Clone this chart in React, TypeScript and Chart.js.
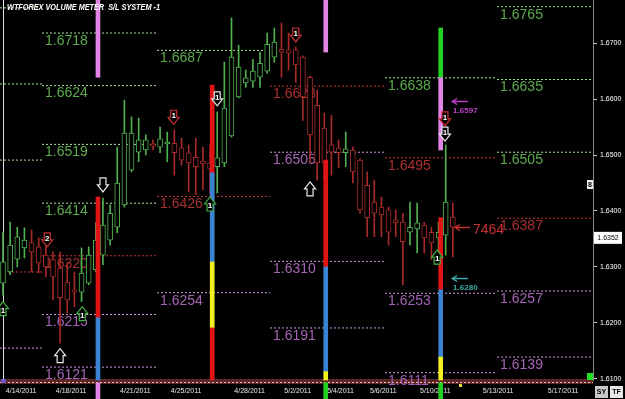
import React, { useEffect, useRef } from 'react';
import { Chart, registerables } from 'chart.js';

Chart.register(...registerables);

// ---------- data ----------
const TITLE = 'WTFOREX VOLUME METER  S/L SYSTEM -1';
const Y_MIN = 1.6098;
const Y_MAX = 1.6777;
const X_MIN = -0.42;
const X_MAX = 82.63;

const PRICE_TICKS = [1.61, 1.62, 1.63, 1.64, 1.65, 1.66, 1.67];
const DATE_TICK_POS = [0.4, 7.4, 16.4, 23.5, 32.4, 39.4, 45.4, 51.4, 58.4, 67.2, 76.3];
const DATE_LABELS = ['4/14/2011', '4/18/2011', '4/21/2011', '4/25/2011', '4/28/2011', '5/2/2011', '5/4/2011', '5/6/2011', '5/10/2011', '5/13/2011', '5/17/2011'];

const CANDLE_OPEN = [1.6271, 1.6291, 1.6314, 1.6334, 1.6343, 1.6336, 1.6321, 1.6313, 1.6298, 1.6273, 1.6259, 1.6255, 1.6271, 1.6295, 1.6321, 1.6348, 1.6371, 1.6411, 1.6473, 1.6505, 1.6509, 1.6520, 1.6514, 1.6520, 1.6521, 1.6513, 1.6504, 1.6496, 1.6489, 1.6486, 1.6479, 1.6486, 1.6534, 1.6604, 1.6629, 1.6632, 1.6639, 1.6650, 1.6675, 1.6689, 1.6688, 1.6688, 1.6675, 1.6639, 1.6589, 1.6548, 1.6518, 1.6513, 1.6504, 1.6509, 1.6491, 1.6446, 1.6416, 1.6407, 1.6402, 1.6384, 1.6380, 1.6362, 1.6368, 1.6375, 1.6362, 1.6352, 1.6357, 1.6389];
const CANDLE_HIGH = [1.6362, 1.6380, 1.6371, 1.6370, 1.6366, 1.6352, 1.6354, 1.6327, 1.6327, 1.6307, 1.6291, 1.6334, 1.6336, 1.6379, 1.6423, 1.6411, 1.6514, 1.6598, 1.6568, 1.6566, 1.6536, 1.6527, 1.6550, 1.6541, 1.6545, 1.6530, 1.6518, 1.6530, 1.6514, 1.6518, 1.6577, 1.6666, 1.6745, 1.6696, 1.6652, 1.6671, 1.6684, 1.6718, 1.6727, 1.6736, 1.6718, 1.6693, 1.6677, 1.6641, 1.6616, 1.6575, 1.6571, 1.6527, 1.6541, 1.6514, 1.6493, 1.6470, 1.6455, 1.6425, 1.6407, 1.6402, 1.6396, 1.6416, 1.6414, 1.6380, 1.6371, 1.6380, 1.6518, 1.6414];
const CANDLE_LOW = [1.6250, 1.6286, 1.6300, 1.6316, 1.6291, 1.6289, 1.6282, 1.6241, 1.6164, 1.6218, 1.6229, 1.6238, 1.6268, 1.6291, 1.6304, 1.6339, 1.6361, 1.6407, 1.6470, 1.6488, 1.6500, 1.6509, 1.6504, 1.6488, 1.6464, 1.6482, 1.6434, 1.6429, 1.6438, 1.6432, 1.6432, 1.6479, 1.6532, 1.6602, 1.6621, 1.6621, 1.6621, 1.6646, 1.6666, 1.6639, 1.6652, 1.6630, 1.6562, 1.6486, 1.6455, 1.6455, 1.6464, 1.6477, 1.6479, 1.6450, 1.6396, 1.6354, 1.6354, 1.6354, 1.6339, 1.6354, 1.6268, 1.6339, 1.6325, 1.6325, 1.6313, 1.6313, 1.6321, 1.6318];
const CANDLE_CLOSE = [1.6309, 1.6339, 1.6354, 1.6348, 1.6327, 1.6307, 1.6300, 1.6282, 1.6245, 1.6241, 1.6255, 1.6289, 1.6321, 1.6348, 1.6375, 1.6396, 1.6450, 1.6539, 1.6539, 1.6527, 1.6527, 1.6516, 1.6529, 1.6523, 1.6504, 1.6491, 1.6486, 1.6479, 1.6484, 1.6475, 1.6495, 1.6584, 1.6675, 1.6657, 1.6638, 1.6650, 1.6664, 1.6698, 1.6702, 1.6684, 1.6682, 1.6661, 1.6604, 1.6536, 1.6486, 1.6486, 1.6505, 1.6504, 1.6511, 1.6470, 1.6402, 1.6388, 1.6396, 1.6393, 1.6362, 1.6379, 1.6345, 1.6371, 1.6379, 1.6352, 1.6343, 1.6362, 1.6416, 1.6371];

const WEEK_BOUNDS = [-0.42, 5.46, 21.57, 37.4, 53.5, 69.2, 82.63];
const LEVEL_VALUES = [1.6763, 1.6627, 1.6491, 1.6291, 1.6155, 1.6718, 1.6624, 1.6519, 1.6414, 1.6320, 1.6215, 1.6121, 1.6687, 1.6426, 1.6254, 1.6623, 1.6505, 1.6310, 1.6191, 1.6638, 1.6495, 1.6253, 1.6111, 1.6765, 1.6635, 1.6505, 1.6387, 1.6257, 1.6139];
const LEVEL_WEEK = [0, 0, 0, 0, 0, 1, 1, 1, 1, 1, 1, 1, 2, 2, 2, 3, 3, 3, 3, 4, 4, 4, 4, 5, 5, 5, 5, 5, 5];
const LEVEL_KIND = ['g', 'g', 'g', 'r', 'p', 'g', 'g', 'g', 'g', 'r', 'p', 'p', 'g', 'r', 'p', 'r', 'p', 'p', 'p', 'g', 'r', 'p', 'p', 'g', 'g', 'g', 'r', 'p', 'p'];

const VBAR_X = [13.3, 13.3, 13.3, 13.3, 29.3, 29.3, 29.3, 29.3, 45.2, 45.2, 45.2, 45.2, 45.2, 61.3, 61.3, 61.3, 61.3, 61.3, 61.3];
const VBAR_LO = [1.6639, 1.6209, 1.6098, 1.6064, 1.6468, 1.6309, 1.6191, 1.6098, 1.6684, 1.6300, 1.6113, 1.6098, 1.6064, 1.6638, 1.6509, 1.6259, 1.6139, 1.6098, 1.6064];
const VBAR_HI = [1.6777, 1.6425, 1.6209, 1.6093, 1.6625, 1.6468, 1.6309, 1.6191, 1.6777, 1.6491, 1.6300, 1.6113, 1.6093, 1.6727, 1.6638, 1.6388, 1.6259, 1.6139, 1.6093];
const VBAR_KIND = ['pink', 'red', 'blue', 'pink', 'red', 'blue', 'yellow', 'red', 'pink', 'red', 'blue', 'yellow', 'green', 'green', 'pink', 'red', 'blue', 'yellow', 'green'];

const ARROW_X = [14.0, 30.0, 23.9, 41.0, 6.2, 43.0, 8.0, 11.1, 0.0, 60.8, 29.0, 61.9, 61.9];
const ARROW_Y = [1.6459, 1.6613, 1.6580, 1.6727, 1.6361, 1.6452, 1.6154, 1.6229, 1.6238, 1.6330, 1.6425, 1.6577, 1.6550];
const ARROW_DIR = ['down', 'down', 'down', 'down', 'down', 'up', 'up', 'up', 'up', 'up', 'up', 'down', 'down'];
const ARROW_KIND = ['w', 'w', 'r', 'r', 'r', 'w', 'w', 'g', 'g', 'g', 'g', 'r', 'w'];
const ARROW_TEXT = ['', '1', '1', '1', '2', '', '', '1', '1', '1', '1', '1', '1'];

const HARROW_X = [62.9, 62.9, 63.3];
const HARROW_END = [65.1, 65.1, 65.4];
const HARROW_PRICE = [1.6597, 1.6280, 1.6371];
const HARROW_KIND = ['m', 't', 'r'];
const HARROW_TEXT = ['1.6597', '1.6280', '7464'];

const LAST_PRICE = 1.6352;

// ---------- styles ----------
const GREEN = '#4fb04f';
const RED = '#a52a2a';
const LINE_COL: Record<string, string> = { g: '#a8e89a', r: '#c83232', p: '#d49ae8' };
const TEXT_COL: Record<string, string> = { g: '#5caa4c', r: '#a83030', p: '#a463b4' };
const VBAR_COL: Record<string, string> = { pink: '#e283e6', red: '#e01414', blue: '#3c82d2', yellow: '#f2f022', green: '#22d022' };
const ARROW_COL: Record<string, string> = { w: '#e8e8e8', r: '#c83030', g: '#48b048' };
const HARROW_COL: Record<string, string> = { m: '#c040c8', t: '#3fa8a8', r: '#c83030' };

const FONT = '"Liberation Sans", Arial, sans-serif';

function drawArrow(ctx: CanvasRenderingContext2D, cx: number, top: number, dir: string, color: string, text: string) {
  const w = 11, sw = 6, h = 14, sh = 7;
  ctx.save();
  ctx.beginPath();
  if (dir === 'down') {
    ctx.moveTo(cx - sw / 2, top);
    ctx.lineTo(cx + sw / 2, top);
    ctx.lineTo(cx + sw / 2, top + sh);
    ctx.lineTo(cx + w / 2, top + sh);
    ctx.lineTo(cx, top + h);
    ctx.lineTo(cx - w / 2, top + sh);
    ctx.lineTo(cx - sw / 2, top + sh);
  } else {
    ctx.moveTo(cx, top);
    ctx.lineTo(cx + w / 2, top + h - sh);
    ctx.lineTo(cx + sw / 2, top + h - sh);
    ctx.lineTo(cx + sw / 2, top + h);
    ctx.lineTo(cx - sw / 2, top + h);
    ctx.lineTo(cx - sw / 2, top + h - sh);
    ctx.lineTo(cx - w / 2, top + h - sh);
  }
  ctx.closePath();
  ctx.fillStyle = '#000';
  ctx.fill();
  ctx.strokeStyle = color;
  ctx.lineWidth = 1.2;
  ctx.stroke();
  if (text) {
    ctx.fillStyle = '#fff';
    ctx.font = 'bold 8px ' + FONT;
    ctx.textAlign = 'center';
    ctx.textBaseline = 'middle';
    ctx.fillText(text, cx, dir === 'down' ? top + 6 : top + 9);
  }
  ctx.restore();
}

const overlayPlugin = {
  id: 'overlay',
  beforeDraw(chart: any) {
    const ctx = chart.ctx;
    ctx.save();
    ctx.fillStyle = '#000';
    ctx.fillRect(0, 0, chart.width, chart.height);
    ctx.restore();
  },
  beforeDatasetsDraw(chart: any) {
    const ctx: CanvasRenderingContext2D = chart.ctx;
    const xs = chart.scales.x;
    const ys = chart.scales.y;
    const area = chart.chartArea;
    ctx.save();
    // bottom band
    ctx.fillStyle = '#5c2626';
    ctx.fillRect(0, area.bottom - 1, area.right, 5);
    ctx.strokeStyle = '#f0c8c8';
    ctx.setLineDash([2, 2]);
    ctx.lineWidth = 1;
    ctx.beginPath();
    ctx.moveTo(0, area.bottom + 2.5);
    ctx.lineTo(area.right, area.bottom + 2.5);
    ctx.stroke();
    ctx.setLineDash([]);
    // cursor line
    const x0 = Math.round(xs.getPixelForValue(0)) + 0.5;
    ctx.strokeStyle = '#e0e0e0';
    ctx.beginPath();
    ctx.moveTo(x0, area.top);
    ctx.lineTo(x0, area.bottom);
    ctx.stroke();
    // level labels
    ctx.font = '14px ' + FONT;
    ctx.textAlign = 'left';
    ctx.textBaseline = 'top';
    LEVEL_VALUES.forEach((v, k) => {
      const w = LEVEL_WEEK[k];
      if (w === 0) return;
      ctx.fillStyle = TEXT_COL[LEVEL_KIND[k]];
      ctx.fillText(v.toFixed(4), xs.getPixelForValue(WEEK_BOUNDS[w]) + 3, ys.getPixelForValue(v) + 1);
    });
    ctx.restore();
  },
  afterDatasetsDraw(chart: any) {
    const ctx: CanvasRenderingContext2D = chart.ctx;
    const xs = chart.scales.x;
    const ys = chart.scales.y;
    const area = chart.chartArea;
    ctx.save();
    ARROW_X.forEach((ax, k) => {
      drawArrow(ctx, xs.getPixelForValue(ax), ys.getPixelForValue(ARROW_Y[k]), ARROW_DIR[k], ARROW_COL[ARROW_KIND[k]], ARROW_TEXT[k]);
    });
    HARROW_X.forEach((hx, k) => {
      const x1 = xs.getPixelForValue(hx);
      const x2 = xs.getPixelForValue(HARROW_END[k]);
      const y = Math.round(ys.getPixelForValue(HARROW_PRICE[k])) + 0.5;
      const col = HARROW_COL[HARROW_KIND[k]];
      ctx.strokeStyle = col;
      ctx.lineWidth = 1.3;
      ctx.beginPath();
      ctx.moveTo(x2, y);
      ctx.lineTo(x1, y);
      ctx.moveTo(x1 + 5, y - 3);
      ctx.lineTo(x1, y);
      ctx.lineTo(x1 + 5, y + 3);
      ctx.stroke();
      ctx.fillStyle = col;
      ctx.textAlign = 'left';
      ctx.textBaseline = 'top';
      if (HARROW_KIND[k] === 'r') {
        ctx.font = '14px ' + FONT;
        ctx.fillText(HARROW_TEXT[k], x2 + 3, y - 4);
      } else {
        ctx.font = 'bold 8px ' + FONT;
        ctx.fillText(HARROW_TEXT[k], x1 + 1, y + 5);
      }
    });
    // title
    ctx.font = 'bold italic 9px ' + FONT;
    ctx.fillStyle = '#ffffff';
    ctx.textAlign = 'left';
    ctx.textBaseline = 'alphabetic';
    const tw = ctx.measureText(TITLE).width;
    ctx.save();
    ctx.translate(7, 10);
    ctx.scale(153 / tw, 1);
    ctx.fillText(TITLE, 0, 0);
    ctx.restore();
    // last price box
    const py = ys.getPixelForValue(LAST_PRICE);
    ctx.fillStyle = '#ffffff';
    ctx.fillRect(area.right + 1, py - 6, 28, 12);
    ctx.fillStyle = '#000';
    ctx.font = '7px ' + FONT;
    ctx.textAlign = 'center';
    ctx.textBaseline = 'middle';
    ctx.fillText(LAST_PRICE.toFixed(4), area.right + 15, py);
    // small widgets
    ctx.fillStyle = '#f0f0f0';
    ctx.fillRect(area.right - 6, 180, 6, 9);
    ctx.fillStyle = '#000';
    ctx.font = 'bold 7px ' + FONT;
    ctx.fillText('8', area.right - 3, 185);
    ctx.fillStyle = '#22e022';
    ctx.fillRect(area.right - 6, area.bottom - 7, 6, 7);
    ctx.fillStyle = '#6a5acd';
    ctx.fillRect(1, area.bottom - 1, 5, 4);
    ctx.fillStyle = '#e8e040';
    ctx.fillRect(459, area.bottom + 4, 3, 3);
    ctx.fillStyle = '#c8c8c8';
    ctx.fillRect(595, 386, 13, 12);
    ctx.fillStyle = '#e8e8e8';
    ctx.fillRect(610, 386, 13, 12);
    ctx.fillStyle = '#000';
    ctx.font = 'bold 7px ' + FONT;
    ctx.fillText('SY', 601.5, 392);
    ctx.fillText('TF', 616.5, 392);
    ctx.restore();
  },
};

export default function App() {
  const ref = useRef<HTMLCanvasElement>(null);
  useEffect(() => {
    if (!ref.current) return;
    const color = (ctx: any) =>
      CANDLE_CLOSE[ctx.dataIndex] >= CANDLE_OPEN[ctx.dataIndex] ? GREEN : RED;
    const levelSets = LEVEL_VALUES.map((v, k) => ({
      type: 'line' as const,
      data: [
        { x: WEEK_BOUNDS[LEVEL_WEEK[k]], y: v },
        { x: WEEK_BOUNDS[LEVEL_WEEK[k] + 1], y: v },
      ],
      borderColor: LINE_COL[LEVEL_KIND[k]],
      borderWidth: 1,
      borderDash: [2, 2],
      pointRadius: 0,
      fill: false,
      order: 3,
    }));
    const chart = new Chart(ref.current, {
      type: 'bar',
      data: {
        datasets: [
          {
            type: 'bar',
            data: VBAR_X.map((x, k) => ({ x, y: [VBAR_LO[k], VBAR_HI[k]] })),
            backgroundColor: VBAR_KIND.map((k) => VBAR_COL[k]),
            borderWidth: 0,
            barThickness: 4,
            grouped: false,
            clip: false,
            order: 0,
          } as any,
          {
            type: 'bar',
            data: CANDLE_OPEN.map((o, i) => ({ x: i, y: [o, CANDLE_CLOSE[i]] })),
            backgroundColor: '#000',
            borderColor: color,
            borderWidth: 1,
            borderSkipped: false,
            barThickness: 5,
            grouped: false,
            order: 1,
          } as any,
          {
            type: 'bar',
            data: CANDLE_LOW.map((l, i) => ({ x: i, y: [l, CANDLE_HIGH[i]] })),
            backgroundColor: color,
            borderWidth: 0,
            barThickness: 1,
            grouped: false,
            order: 2,
          } as any,
          ...levelSets,
        ],
      },
      options: {
        responsive: false,
        devicePixelRatio: 1,
        animation: false,
        events: [],
        layout: { padding: 0 },
        plugins: { legend: { display: false }, tooltip: { enabled: false }, title: { display: false } },
        scales: {
          x: {
            type: 'linear',
            min: X_MIN,
            max: X_MAX,
            offset: false,
            border: { display: false },
            grid: { drawOnChartArea: false, drawTicks: true, tickLength: 4, color: '#bbbbbb' },
            ticks: {
              autoSkip: false,
              maxRotation: 0,
              minRotation: 0,
              align: 'start',
              padding: 3,
              color: '#e8e8e8',
              font: { family: FONT, size: 7 },
              callback: (_v: any, i: number) => DATE_LABELS[i],
            },
            afterBuildTicks: (s: any) => {
              s.ticks = DATE_TICK_POS.map((v) => ({ value: v }));
            },
            afterFit: (s: any) => {
              s.height = 19;
              s.paddingLeft = 0;
              s.paddingRight = 0;
            },
          },
          y: {
            type: 'linear',
            position: 'right',
            min: Y_MIN,
            max: Y_MAX,
            border: { display: true, color: '#8a8a8a', width: 1 },
            grid: { drawOnChartArea: false, drawTicks: true, tickLength: 4, color: '#cccccc' },
            ticks: {
              padding: 3,
              color: '#ffffff',
              font: { family: FONT, size: 7 },
              callback: (v: any) => Number(v).toFixed(4),
            },
            afterBuildTicks: (s: any) => {
              s.ticks = PRICE_TICKS.map((v) => ({ value: v }));
            },
            afterFit: (s: any) => {
              s.width = 32;
              s.paddingTop = 0;
              s.paddingBottom = 0;
            },
          },
        },
      } as any,
      plugins: [overlayPlugin],
    });
    return () => chart.destroy();
  }, []);
  return (
    <div style={{ position: 'fixed', left: 0, top: 0, width: 625, height: 399, background: '#000' }}>
      <canvas ref={ref} width={625} height={399} style={{ display: 'block' }} />
    </div>
  );
}
